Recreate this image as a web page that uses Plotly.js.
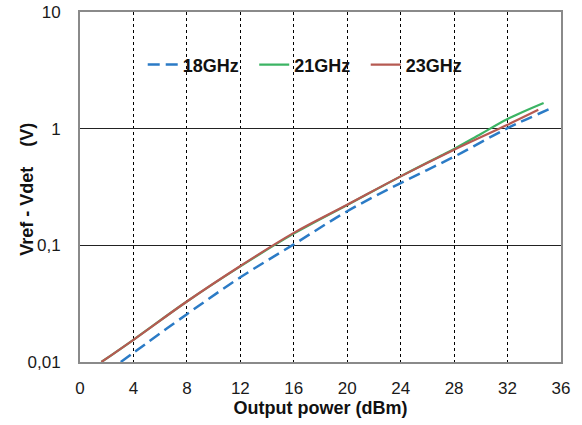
<!DOCTYPE html>
<html>
<head>
<meta charset="utf-8">
<script src="https://cdn.plot.ly/plotly-3.0.1.min.js"></script>
<style>html,body{margin:0;padding:0;background:#fff;}#chart{width:582px;height:425px;}</style>
</head>
<body>
<div id="chart"></div>
<script>
// 18GHz
var x18 = [3.05, 4, 8, 12, 16, 20, 24, 28, 32, 35.3];
var y18 = [0.01, 0.012, 0.0257, 0.0532, 0.102, 0.196, 0.342, 0.575, 1.01, 1.5];
// 21GHz
var x21 = [1.6, 4, 8, 12, 16, 20, 24, 27, 28, 30, 32, 34.7];
var y21 = [0.01, 0.0155, 0.033, 0.066, 0.126, 0.222, 0.39, 0.585, 0.67, 0.9, 1.21, 1.66];
// 23GHz
var x23 = [1.6, 4, 8, 12, 16, 20, 24, 28, 32, 34.3];
var y23 = [0.01, 0.0155, 0.033, 0.0665, 0.128, 0.223, 0.39, 0.66, 1.08, 1.45];

var seriesNames = ['18GHz', '21GHz', '23GHz'];
var xTickVals = [0, 4, 8, 12, 16, 20, 24, 28, 32, 36];
var yTickVals = [0.01, 0.1, 1, 10];
var yTickText = ['0,01', '0,1', '1', '10'];
var xTitle = 'Output power (dBm)';
var yTitle = 'Vref - Vdet\u00a0\u00a0\u00a0 (V)';

var traces = [
  {x: x18, y: y18, name: seriesNames[0], mode: 'lines', line: {color: '#2b7bc6', width: 2.5, dash: '12px,6px', shape: 'spline'}},
  {x: x21, y: y21, name: seriesNames[1], mode: 'lines', line: {color: '#3cb464', width: 2.2, shape: 'spline'}},
  {x: x23, y: y23, name: seriesNames[2], mode: 'lines', line: {color: '#b65a52', width: 2.2, shape: 'spline'}}
];

var layout = {
  width: 582, height: 425,
  margin: {l: 80, r: 21, t: 12, b: 63},
  paper_bgcolor: '#fff', plot_bgcolor: '#fff',
  font: {family: 'Arial, "Liberation Sans", sans-serif', color: '#1a1a1a'},
  showlegend: true,
  legend: {
    orientation: 'h', x: 0.1304, xanchor: 'left', y: 0.849, yanchor: 'middle',
    bgcolor: 'rgba(0,0,0,0)', font: {size: 18, color: '#111', weight: 'bold'},
    entrywidth: 66.5, entrywidthmode: 'pixels', itemwidth: 30
  },
  xaxis: {
    range: [0, 36], tickvals: xTickVals, ticks: '', ticklabelstandoff: 10,
    tickfont: {size: 17, color: '#1a1a1a'},
    showgrid: true, gridcolor: '#000', gridwidth: 1, griddash: 'dot',
    showline: true, linecolor: '#8a8a8a', linewidth: 2, mirror: true, zeroline: false,
    title: {text: xTitle, font: {size: 18, color: '#111', weight: 'bold'}, standoff: 4}
  },
  yaxis: {
    type: 'log', range: [-2, 1], tickvals: yTickVals, ticktext: yTickText, ticks: '', ticklabelstandoff: 14,
    tickfont: {size: 17, color: '#1a1a1a'},
    showgrid: true, gridcolor: '#222', gridwidth: 1,
    showline: true, linecolor: '#8a8a8a', linewidth: 2, mirror: true, zeroline: false
  },
  annotations: [{
    text: yTitle, xref: 'paper', yref: 'paper', x: -0.111, y: 0.494,
    xanchor: 'center', yanchor: 'middle', textangle: -90, showarrow: false,
    font: {size: 18, color: '#111', weight: 'bold'}
  }]
};

Plotly.newPlot('chart', traces, layout, {displayModeBar: false, staticPlot: true});
</script>
</body>
</html>
